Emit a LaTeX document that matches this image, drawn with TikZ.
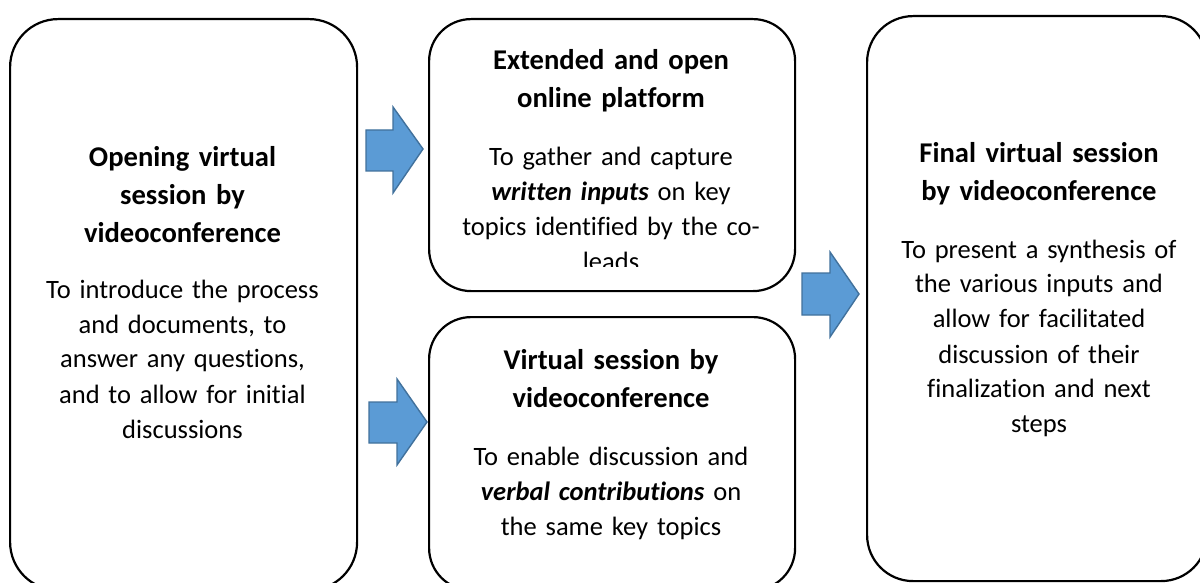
\documentclass[tikz,border=0pt]{standalone}
\usepackage{fontspec}
\setmainfont{Carlito}[Ligatures=CommonOff]
\definecolor{arrfill}{HTML}{5B9BD5}
\definecolor{arrline}{HTML}{41719C}
\begin{document}
\begin{tikzpicture}[x=1pt,y=-1pt,
  box/.style={draw=black, line width=2.2pt, rounded corners=48pt, inner sep=0pt, anchor=north west},
  midbox/.style={box, rounded corners=42pt},
  titletext/.style={anchor=base, align=center, text width=350pt, inner sep=0pt,
    font=\bfseries\fontsize{28.6}{38}\selectfont},
  bodytext/.style={anchor=base, align=center, text width=350pt, inner sep=0pt,
    font=\fontsize{26.5}{35}\selectfont},
  blockarrow/.style={fill=arrfill, draw=arrline, line width=1.4pt, line join=miter}]
\useasboundingbox (0,0) rectangle (1200,583);
\clip (0,0) rectangle (1200,583);
\fill[white] (0,0) rectangle (1200,583);

% boxes
\node[box, minimum width=347pt, minimum height=571pt] (open) at (9,18) {};
\node[midbox, minimum width=366pt, minimum height=272pt] (platform) at (428,18) {};
\node[midbox, minimum width=366pt, minimum height=273pt] (virtual) at (428,316) {};
\node[box, rounded corners=46pt, minimum width=340pt, minimum height=565pt] (final) at (866,15) {};

% left box text
\node[titletext] (opentitle) at (182.5,167) {Opening virtual\\session by\\videoconference};
\node[bodytext] (openbody) at (182.5,298) {To introduce the process\\and documents, to\\answer any questions,\\and to allow for initial\\discussions};

% middle top text
\node[titletext] (plattitle) at (611,70) {Extended and open\\online platform};
\begin{scope}
  \clip (428,18) rectangle (794,266);
  \node[bodytext] (platbody) at (611,166) {To gather and capture\\\textbf{\textit{written inputs}} on key\\topics identified by the co-\\leads};
\end{scope}

% middle bottom text
\node[titletext] (virttitle) at (611,369) {Virtual session by\\videoconference};
\node[bodytext] (virtbody) at (611,465) {To enable discussion and\\\textbf{\textit{verbal contributions}} on\\the same key topics};

% right box text
\node[titletext] (finaltitle) at (1039,163) {Final virtual session\\by videoconference};
\node[bodytext] (finalbody) at (1039,258) {To present a synthesis of\\the various inputs and\\allow for facilitated\\discussion of their\\finalization and next\\steps};

% block arrows
\draw[blockarrow] (366,130) -- (393,130) -- (393,107) -- (423,149) -- (393,193) -- (393,171) -- (366,171) -- cycle;
\draw[blockarrow] (369,402) -- (397,402) -- (397,379) -- (427,422) -- (397,465) -- (397,443) -- (369,443) -- cycle;
\draw[blockarrow] (802,273) -- (830,273) -- (830,252) -- (859,294) -- (830,337) -- (830,315) -- (802,315) -- cycle;
\end{tikzpicture}
\end{document}
